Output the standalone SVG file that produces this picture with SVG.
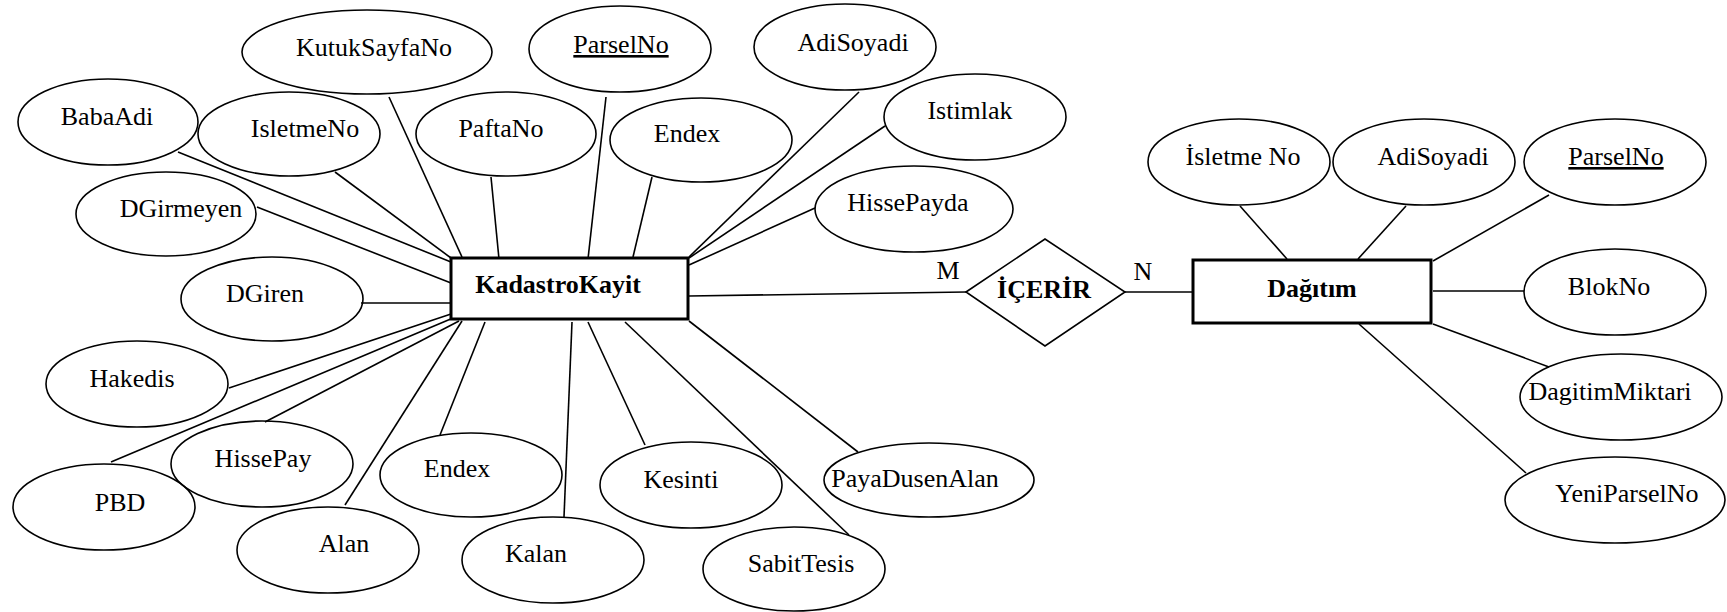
<svg xmlns="http://www.w3.org/2000/svg" width="1727" height="612" viewBox="0 0 1727 612">
<style>
.bg{fill:#fff}
.attr ellipse{fill:none;stroke:#000;stroke-width:1.6}
.ent rect{fill:#fff;stroke:#000;stroke-width:3}
.rel polygon{fill:#fff;stroke:#000;stroke-width:1.6}
text{font-family:"Liberation Serif","Times New Roman",serif;font-size:26px;fill:#000;text-anchor:middle}
.b{font-weight:bold}
.u{text-decoration:underline}
#connectors line{stroke:#000;stroke-width:1.6}
</style>
<rect class="bg" x="0" y="0" width="1727" height="612"/>
<g id="connectors">
<line x1="389" y1="97" x2="462" y2="257"/>
<line x1="178" y1="152" x2="451" y2="262"/>
<line x1="335" y1="172" x2="451" y2="258"/>
<line x1="257" y1="207" x2="451" y2="283"/>
<line x1="361" y1="303" x2="451" y2="303"/>
<line x1="491" y1="177" x2="499" y2="259"/>
<line x1="606" y1="97" x2="588" y2="259"/>
<line x1="859" y1="92" x2="689" y2="257"/>
<line x1="652" y1="177" x2="633" y2="257"/>
<line x1="885" y1="126" x2="689" y2="258"/>
<line x1="815" y1="208" x2="689" y2="265"/>
<line x1="689" y1="296" x2="966" y2="292"/>
<line x1="572" y1="322" x2="564" y2="517"/>
<line x1="588" y1="322" x2="645" y2="445"/>
<line x1="625" y1="322" x2="849" y2="535"/>
<line x1="689" y1="321" x2="858" y2="452"/>
<line x1="229" y1="388" x2="451" y2="314"/>
<line x1="111" y1="462" x2="453" y2="318"/>
<line x1="265" y1="422" x2="459" y2="321"/>
<line x1="345" y1="505" x2="462" y2="321"/>
<line x1="440" y1="435" x2="485" y2="322"/>
<line x1="1125" y1="292" x2="1193" y2="292"/>
<line x1="1240" y1="206" x2="1287" y2="259"/>
<line x1="1406" y1="206" x2="1358" y2="259"/>
<line x1="1549" y1="195" x2="1433" y2="261"/>
<line x1="1433" y1="291" x2="1524" y2="291"/>
<line x1="1433" y1="324" x2="1549" y2="367"/>
<line x1="1359" y1="324" x2="1526" y2="473"/>
</g>
<g id="kadastrokayit" class="ent"><rect x="451" y="258" width="237" height="61"/><text class="b" x="558" y="293">KadastroKayit</text></g>
<g id="dagitim" class="ent"><rect x="1193" y="260" width="238" height="63"/><text class="b" x="1312" y="297">Dağıtım</text></g>
<g id="icerir" class="rel"><polygon points="966,292 1045,239 1125,292 1045,346"/><text class="b" x="1044" y="298">İÇERİR</text></g>
<g id="card-m"><text x="948" y="279">M</text></g>
<g id="card-n"><text x="1143" y="280">N</text></g>
<g id="a-kutuksayfano" class="attr"><ellipse cx="367" cy="52" rx="125" ry="42"/><text x="374" y="56">KutukSayfaNo</text></g>
<g id="a-parselno" class="attr"><ellipse cx="620" cy="49" rx="91" ry="43"/><text class="u" x="621" y="53">ParselNo</text></g>
<g id="a-adisoyadi" class="attr"><ellipse cx="845" cy="47" rx="91" ry="43"/><text x="853" y="51">AdiSoyadi</text></g>
<g id="a-babaadi" class="attr"><ellipse cx="108" cy="122" rx="90" ry="43"/><text x="107" y="125">BabaAdi</text></g>
<g id="a-isletmeno" class="attr"><ellipse cx="289" cy="134" rx="91" ry="42"/><text x="305" y="137">IsletmeNo</text></g>
<g id="a-paftano" class="attr"><ellipse cx="506" cy="134" rx="90" ry="42"/><text x="501" y="137">PaftaNo</text></g>
<g id="a-endex1" class="attr"><ellipse cx="701" cy="140" rx="91" ry="42"/><text x="687" y="142">Endex</text></g>
<g id="a-istimlak" class="attr"><ellipse cx="975" cy="117" rx="91" ry="43"/><text x="970" y="119">Istimlak</text></g>
<g id="a-hissepayda" class="attr"><ellipse cx="914" cy="209" rx="99" ry="43"/><text x="908" y="211">HissePayda</text></g>
<g id="a-dgirmeyen" class="attr"><ellipse cx="166" cy="214" rx="90" ry="42"/><text x="181" y="217">DGirmeyen</text></g>
<g id="a-dgiren" class="attr"><ellipse cx="272" cy="299" rx="91" ry="42"/><text x="265" y="302">DGiren</text></g>
<g id="a-hakedis" class="attr"><ellipse cx="137" cy="384" rx="91" ry="43"/><text x="132" y="387">Hakedis</text></g>
<g id="a-pbd" class="attr"><ellipse cx="104" cy="507" rx="91" ry="43"/><text x="120" y="511">PBD</text></g>
<g id="a-hissepay" class="attr"><ellipse cx="262" cy="464" rx="91" ry="43"/><text x="263" y="467">HissePay</text></g>
<g id="a-alan" class="attr"><ellipse cx="328" cy="550" rx="91" ry="43"/><text x="344" y="552">Alan</text></g>
<g id="a-endex2" class="attr"><ellipse cx="471" cy="475" rx="91" ry="42"/><text x="457" y="477">Endex</text></g>
<g id="a-kalan" class="attr"><ellipse cx="553" cy="560" rx="91" ry="43"/><text x="536" y="562">Kalan</text></g>
<g id="a-kesinti" class="attr"><ellipse cx="691" cy="485" rx="91" ry="43"/><text x="681" y="488">Kesinti</text></g>
<g id="a-sabittesis" class="attr"><ellipse cx="794" cy="569" rx="91" ry="42"/><text x="801" y="572">SabitTesis</text></g>
<g id="a-payadusenalan" class="attr"><ellipse cx="929" cy="480" rx="105" ry="37"/><text x="915" y="487">PayaDusenAlan</text></g>
<g id="b-isletmeno" class="attr"><ellipse cx="1239" cy="162" rx="91" ry="43"/><text x="1243" y="165">İsletme No</text></g>
<g id="b-adisoyadi" class="attr"><ellipse cx="1424" cy="162" rx="91" ry="43"/><text x="1433" y="165">AdiSoyadi</text></g>
<g id="b-parselno" class="attr"><ellipse cx="1615" cy="162" rx="91" ry="43"/><text class="u" x="1616" y="165">ParselNo</text></g>
<g id="b-blokno" class="attr"><ellipse cx="1615" cy="292" rx="91" ry="43"/><text x="1609" y="295">BlokNo</text></g>
<g id="b-dagitimmiktari" class="attr"><ellipse cx="1621" cy="397" rx="101" ry="43"/><text x="1610" y="400">DagitimMiktari</text></g>
<g id="b-yeniparselno" class="attr"><ellipse cx="1615" cy="500" rx="110" ry="43"/><text x="1627" y="502">YeniParselNo</text></g>
</svg>
